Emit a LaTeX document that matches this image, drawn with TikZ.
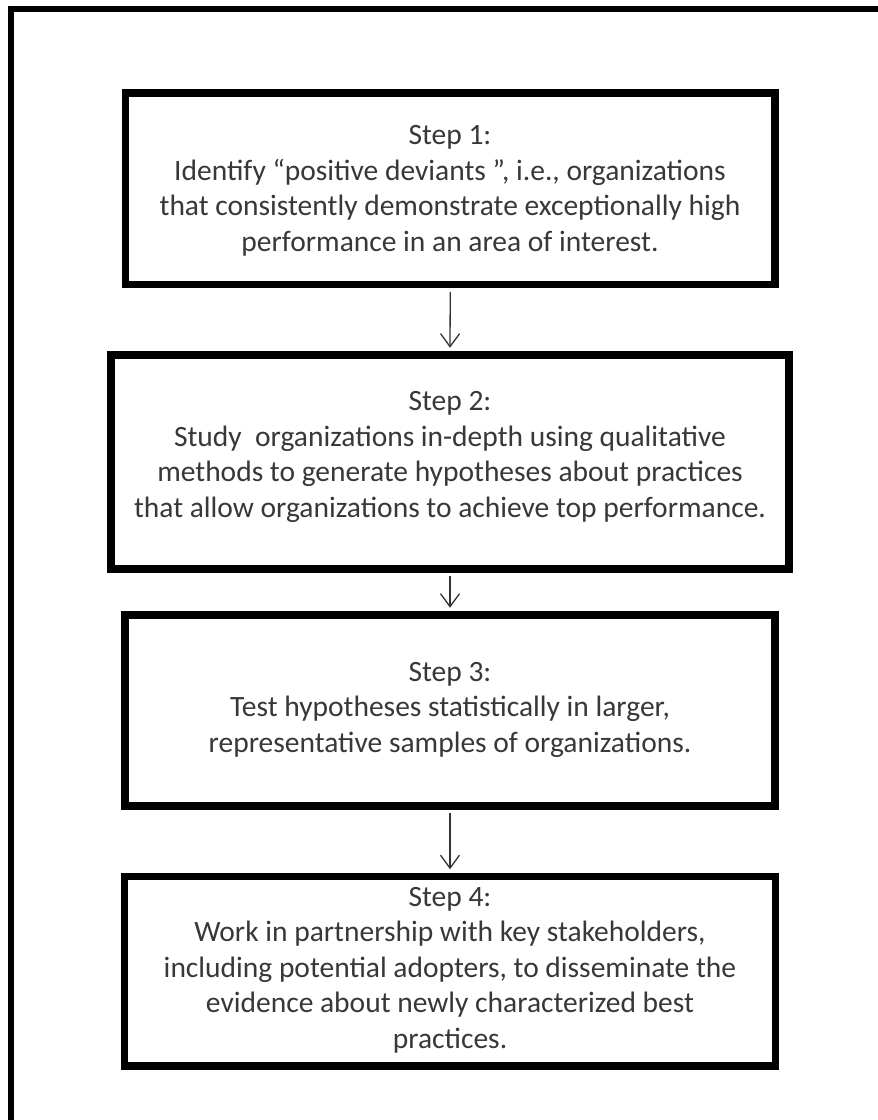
\documentclass[tikz,border=0pt]{standalone}
\usepackage{fontspec}
\setmainfont{Carlito}
\usetikzlibrary{arrows.meta}
\tikzset{
  stepbox/.style={draw=black, line width=7.5pt, rectangle, inner sep=0pt},
  steptext/.style={align=center, inner sep=0pt, anchor=base, text=black!78,
    font=\fontsize{29.5}{35.4}\selectfont},
  flow/.style={draw=black!80, line width=1.3pt,
    -{Straight Barb[length=13pt,width=19pt,line width=1.3pt]}, shorten >=3.5pt, shorten <=3.7pt},
  frame/.style={line width=6pt, draw=black}
}
\begin{document}
\begin{tikzpicture}[x=1pt,y=-1pt]
\useasboundingbox (0,0) rectangle (878,1120);
\fill[white] (0,0) rectangle (878,1120);
% outer frame (left and top only)
\coordinate (fl) at (11,1120);
\coordinate (fc) at (11,9);
\coordinate (fr) at (878,9);
\draw[frame, line cap=rect] (fl) -- (fc) -- (fr);

\node[stepbox, minimum width=649.5pt, minimum height=191.5pt] (s1) at (450.25,188.75) {};
\node[stepbox, minimum width=678pt, minimum height=214pt] (s2) at (450,462) {};
\node[stepbox, minimum width=650pt, minimum height=191pt] (s3) at (450,710.5) {};
\node[stepbox, minimum width=651pt, minimum height=189.5pt] (s4) at (450,971.25) {};

\node[steptext] (t1) at (450,251) {Step 1:\\Identify “positive deviants ”, i.e., organizations\\that consistently demonstrate exceptionally high\\performance in an area of interest.};
\node[steptext] (t2) at (450,517) {Step 2:\\Study\ \ organizations in-depth using qualitative\\methods to generate hypotheses about practices\\that allow organizations to achieve top performance.};
\node[steptext] (t3) at (450,752) {Step 3:\\Test hypotheses statistically in larger,\\representative samples of organizations.};
\node[steptext] (t4) at (450,1048) {Step 4:\\Work in partnership with key stakeholders,\\including potential adopters, to disseminate the\\evidence about newly characterized best\\practices.};

\draw[flow] (s1.south) -- (s2.north);
\draw[flow] (s2.south) -- (s3.north);
\draw[flow] (s3.south) -- (s4.north);
\end{tikzpicture}
\end{document}
